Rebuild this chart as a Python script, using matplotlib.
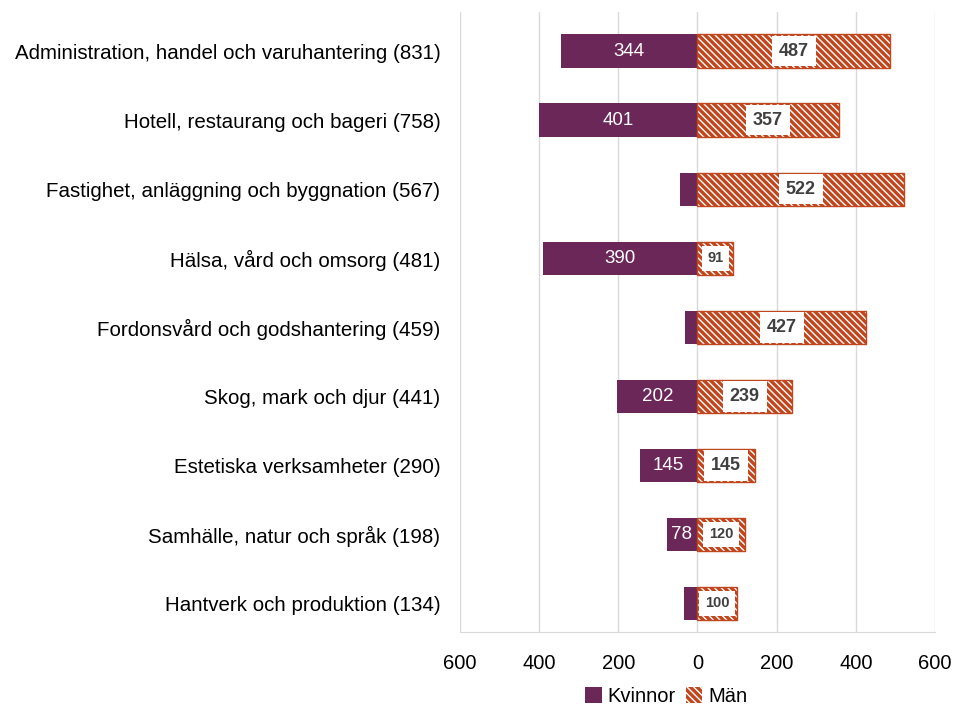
"""Diverging bar chart: Kvinnor vs Män per program."""
import matplotlib.pyplot as plt
import matplotlib.patches as mpatches

plt.rcParams["font.family"] = ["Liberation Sans", "DejaVu Sans"]
plt.rcParams["hatch.linewidth"] = 1.0

categories = [
    "Administration, handel och varuhantering (831)",
    "Hotell, restaurang och bageri (758)",
    "Fastighet, anläggning och byggnation (567)",
    "Hälsa, vård och omsorg (481)",
    "Fordonsvård och godshantering (459)",
    "Skog, mark och djur (441)",
    "Estetiska verksamheter (290)",
    "Samhälle, natur och språk (198)",
    "Hantverk och produktion (134)",
]
kvinnor = [344, 401, 45, 390, 32, 202, 145, 78, 34]
man = [487, 357, 522, 91, 427, 239, 145, 120, 100]
xticks = [-600, -400, -200, 0, 200, 400, 600]
xticklabels = ["600", "400", "200", "0", "200", "400", "600"]

purple = "#6B2758"
orange = "#C0461E"
hatch = "\\\\\\\\\\"

fig = plt.figure(figsize=(9.56, 7.08), dpi=100)
ax = fig.add_axes([0.481, 0.107, 0.497, 0.876])

n = len(categories)
ypos = list(range(n - 1, -1, -1))
h = 0.48

ax.barh(ypos, [-k for k in kvinnor], height=h, color=purple, zorder=2)
ax.barh(ypos, man, height=h, color=orange, edgecolor="white", hatch=hatch,
        linewidth=0, zorder=2)
ax.barh(ypos, man, height=h, fill=False, edgecolor=orange, linewidth=1.0, zorder=3)

for y, k, m in zip(ypos, kvinnor, man):
    if k >= 70:
        ax.text(-k / 2, y, str(k), ha="center", va="center", color="white",
                fontsize=13.5, zorder=4)
    big = m >= 140
    ax.text(m / 2, y, str(m), ha="center", va="center", color="#404040",
            fontsize=13 if big else 10.5, fontweight="bold", zorder=4,
            bbox=dict(facecolor="white", edgecolor="none", pad=5 if big else 4))

ax.set_xlim(-600, 600)
ax.set_ylim(-0.42, n - 1 + 0.565)
ax.set_xticks(xticks)
ax.set_xticklabels(xticklabels, fontsize=14.5)
ax.set_yticks(ypos)
ax.set_yticklabels(categories, fontsize=14.8)
ax.tick_params(length=0)
ax.tick_params(axis="y", pad=14)
ax.tick_params(axis="x", pad=16)
ax.grid(axis="x", color="#D9D9D9", linewidth=1, zorder=0)
for side in ["top", "right", "left"]:
    ax.spines[side].set_visible(False)
ax.spines["bottom"].set_color("#D9D9D9")

handles = [
    mpatches.Patch(facecolor=purple, label="Kvinnor"),
    mpatches.Patch(facecolor=orange, edgecolor="white", hatch=hatch,
                   linewidth=0, label="Män"),
]
fig.legend(handles=handles, loc="center", bbox_to_anchor=(0.697, 0.016), ncol=2,
           frameon=False, fontsize=14.5, handlelength=0.8, handleheight=0.8,
           handletextpad=0.3, columnspacing=0.5)

fig.savefig("out.png", dpi=100)
